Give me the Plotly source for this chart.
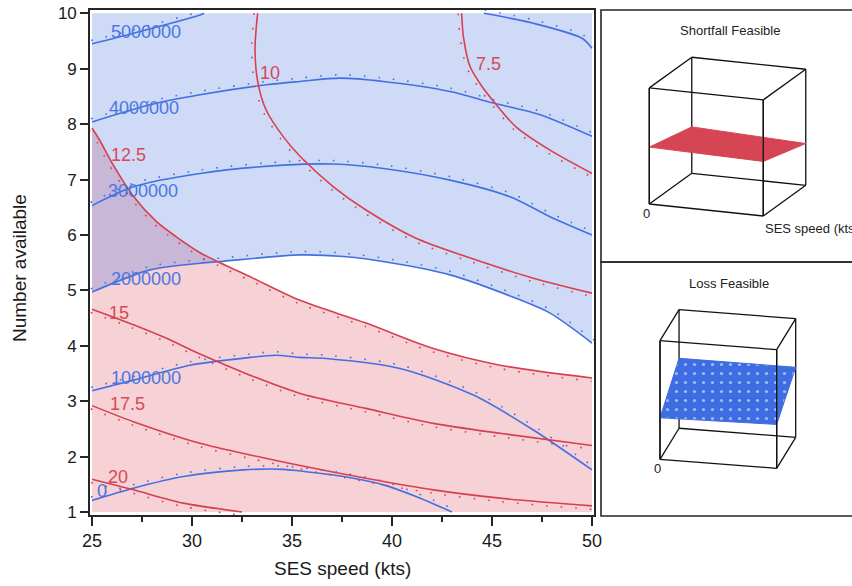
import math
import plotly.graph_objects as go

FIG_W, FIG_H = 852, 586

# ---------------------------------------------------------------------------
# Factor space
# ---------------------------------------------------------------------------
SPEED_MIN, SPEED_MAX = 25, 50
NUMBER_MIN, NUMBER_MAX = 1, 10
SPEED_TICKS = [25, 30, 35, 40, 45, 50]
SPEED_MINOR_TICKS = [27.5, 32.5, 37.5, 42.5, 47.5]
NUMBER_TICKS = [1, 2, 3, 4, 5, 6, 7, 8, 9, 10]

# ---------------------------------------------------------------------------
# Loss contours (blue): points (SES speed, number available) along each level
# ---------------------------------------------------------------------------
LOSS_LEVELS = [0, 1000000, 2000000, 3000000, 4000000, 5000000]
LOSS_0_SPEED = [25.0, 27.07, 29.57, 32.57, 34.57, 35.4, 37.57, 39.57, 41.2, 43.0]
LOSS_0_NUMBER = [1.21, 1.43, 1.64, 1.76, 1.77, 1.74, 1.64, 1.49, 1.28, 1.0]
LOSS_1M_SPEED = [25.0, 27.07, 29.9, 32.9, 34.2, 35.4, 36.7, 40.4, 44.07, 47.07, 50.0]
LOSS_1M_NUMBER = [3.19, 3.38, 3.65, 3.79, 3.83, 3.79, 3.77, 3.59, 3.11, 2.48, 1.76]
LOSS_2M_SPEED = [25.0, 27.9, 30.4, 31.4, 35.4, 37.57, 40.07, 42.9, 45.9, 47.9, 50.0]
LOSS_2M_NUMBER = [4.97, 5.37, 5.49, 5.52, 5.64, 5.61, 5.49, 5.28, 4.90, 4.59, 4.05]
LOSS_3M_SPEED = [25.0, 27.07, 30.4, 34.57, 37.07, 39.57, 42.9, 45.9, 47.9, 50.0]
LOSS_3M_NUMBER = [6.53, 6.87, 7.11, 7.26, 7.28, 7.20, 6.99, 6.69, 6.33, 6.0]
LOSS_4M_SPEED = [25.0, 27.9, 30.4, 33.73, 35.4, 37.4, 39.57, 42.9, 45.07, 47.4, 50.0]
LOSS_4M_NUMBER = [8.04, 8.35, 8.53, 8.71, 8.77, 8.83, 8.77, 8.59, 8.38, 8.17, 7.78]
LOSS_5M_SPEED = [25.0, 27.07, 30.4, 30.6, None, 44.6, 47.07, 49.5, 50.0]
LOSS_5M_NUMBER = [9.45, 9.64, 9.97, 10.0, None, 10.0, 9.82, 9.55, 9.37]

# ---------------------------------------------------------------------------
# Shortfall contours (red)
# ---------------------------------------------------------------------------
SHORT_LEVELS = [7.5, 10, 12.5, 15, 17.5, 20]
SHORT_7_5_SPEED = [43.48, 43.57, 43.9, 44.5, 45.15, 46.2, 47.9, 50.0]
SHORT_7_5_NUMBER = [10.0, 9.58, 9.04, 8.68, 8.38, 7.95, 7.53, 7.11]
SHORT_10_SPEED = [33.28, 33.15, 33.3, 33.7, 34.57, 35.4, 37.07, 38.7, 41.2, 43.7, 47.07, 50.0]
SHORT_10_NUMBER = [10.0, 9.34, 8.74, 8.26, 7.77, 7.42, 6.87, 6.45, 5.94, 5.61, 5.22, 4.95]
SHORT_12_5_SPEED = [25.0, 25.4, 26.0, 27.07, 28.2, 29.2, 30.4, 31.4, 33.0, 35.4, 38.7, 42.07, 45.4, 50.0]
SHORT_12_5_NUMBER = [7.93, 7.70, 7.30, 6.70, 6.25, 5.97, 5.68, 5.50, 5.23, 4.82, 4.41, 3.95, 3.65, 3.42]
SHORT_15_SPEED = [25.0, 27.07, 28.7, 30.4, 32.9, 35.4, 38.7, 42.07, 45.4, 50.0]
SHORT_15_NUMBER = [4.66, 4.38, 4.14, 3.85, 3.47, 3.14, 2.87, 2.60, 2.42, 2.20]
SHORT_17_5_SPEED = [25.0, 27.07, 30.4, 32.9, 35.4, 38.7, 42.07, 45.4, 50.0]
SHORT_17_5_NUMBER = [2.92, 2.63, 2.24, 2.03, 1.84, 1.61, 1.40, 1.25, 1.11]
SHORT_20_SPEED = [25.0, 27.07, 29.57, 32.5]
SHORT_20_NUMBER = [1.59, 1.40, 1.16, 1.0]

# Feasibility limits shaded on the contour plot
LOSS_LIMIT = 2000000      # loss at or above this level is shaded blue
SHORT_LIMIT = 12.5        # shortfall at or above this level is shaded red

# ---------------------------------------------------------------------------
# Surface heights for the two small 3-D views (fraction of the z range),
# rows: number available (front, back); columns: SES speed (low, high)
# ---------------------------------------------------------------------------
SURFACE_SPEED = [25, 50]
SURFACE_NUMBER = [1, 10]
SHORTFALL_FEASIBLE_HEIGHT = [[0.49, 0.47], [0.40, 0.36]]
LOSS_FEASIBLE_HEIGHT = [[0.35, 0.37], [0.59, 0.59]]

# ---------------------------------------------------------------------------
# Styling / layout
# ---------------------------------------------------------------------------
FONT = "Liberation Sans, Arial, sans-serif"
BLUE = "rgb(66,112,226)"
RED = "rgb(214,64,80)"
BLUE_TEXT = "rgb(74,118,226)"
RED_TEXT = "rgb(216,72,86)"
BLUE_FILL = "rgba(62,108,225,0.25)"
RED_FILL = "rgba(216,58,74,0.23)"
FRAME = "#262626"
TEXT = "#1a1a1a"

PLOT_L, PLOT_R, PLOT_T, PLOT_B = 90, 594, 10, 515
X_RANGE = [24.9, 50.1]
Y_RANGE = [0.946, 10.06]
PX_X = (PLOT_R - PLOT_L) / (X_RANGE[1] - X_RANGE[0])
PX_Y = (PLOT_B - PLOT_T) / (Y_RANGE[1] - Y_RANGE[0])

LOSS_LABEL_POS = {0: (25.49, 1.38), 1000000: (27.72, 3.42), 2000000: (27.68, 5.21),
                  3000000: (27.55, 6.80), 4000000: (27.6, 8.30), 5000000: (27.68, 9.67)}
SHORT_LABEL_POS = {7.5: (44.8, 9.09), 10: (33.9, 8.93), 12.5: (26.8, 7.44),
                   15: (26.37, 4.59), 17.5: (26.79, 2.95), 20: (26.32, 1.63)}

PANELS = {
    "shortfall": dict(origin=(649.3, 204.0), scale=122.0, azimuth=20.9,
                      elevation=16.0, aspect=(0.976, 0.99)),
    "loss": dict(origin=(660.0, 459.3), scale=119.4, azimuth=12.3,
                 elevation=20.8, aspect=(0.749, 1.063)),
}

loss_curves = {
    0: (LOSS_0_SPEED, LOSS_0_NUMBER),
    1000000: (LOSS_1M_SPEED, LOSS_1M_NUMBER),
    2000000: (LOSS_2M_SPEED, LOSS_2M_NUMBER),
    3000000: (LOSS_3M_SPEED, LOSS_3M_NUMBER),
    4000000: (LOSS_4M_SPEED, LOSS_4M_NUMBER),
    5000000: (LOSS_5M_SPEED, LOSS_5M_NUMBER),
}
short_curves = {
    7.5: (SHORT_7_5_SPEED, SHORT_7_5_NUMBER),
    10: (SHORT_10_SPEED, SHORT_10_NUMBER),
    12.5: (SHORT_12_5_SPEED, SHORT_12_5_NUMBER),
    15: (SHORT_15_SPEED, SHORT_15_NUMBER),
    17.5: (SHORT_17_5_SPEED, SHORT_17_5_NUMBER),
    20: (SHORT_20_SPEED, SHORT_20_NUMBER),
}


def split_segments(xs, ys):
    segs, cx, cy = [], [], []
    for x, y in zip(xs, ys):
        if x is None:
            if cx:
                segs.append((cx, cy))
            cx, cy = [], []
        else:
            cx.append(x)
            cy.append(y)
    if cx:
        segs.append((cx, cy))
    return segs


def offset_curve(xs, ys, dist_px):
    """Shift a polyline sideways by dist_px screen pixels (positive = left of travel)."""
    px = [x * PX_X for x in xs]
    py = [y * PX_Y for y in ys]
    n = len(px)
    ox, oy = [], []
    for i in range(n):
        a = max(i - 1, 0)
        b = min(i + 1, n - 1)
        tx, ty = px[b] - px[a], py[b] - py[a]
        ln = math.hypot(tx, ty) or 1.0
        nx, ny = -ty / ln, tx / ln
        ox.append((px[i] + nx * dist_px) / PX_X)
        oy.append((py[i] + ny * dist_px) / PX_Y)
    return ox, oy


fig = go.Figure()

# --- shaded regions -------------------------------------------------------
sx, sy = short_curves[SHORT_LIMIT]
fig.add_trace(go.Scatter(x=[SPEED_MIN, SPEED_MAX], y=[NUMBER_MIN, NUMBER_MIN], mode="lines",
                         line=dict(width=0), hoverinfo="skip", showlegend=False))
fig.add_trace(go.Scatter(x=sx, y=sy, mode="lines", fill="tonexty", fillcolor=RED_FILL,
                         line=dict(width=0, shape="spline", smoothing=0.8),
                         hoverinfo="skip", showlegend=False))
lx, ly = loss_curves[LOSS_LIMIT]
fig.add_trace(go.Scatter(x=[SPEED_MIN, SPEED_MAX], y=[NUMBER_MAX, NUMBER_MAX], mode="lines",
                         line=dict(width=0), hoverinfo="skip", showlegend=False))
fig.add_trace(go.Scatter(x=lx, y=ly, mode="lines", fill="tonexty", fillcolor=BLUE_FILL,
                         line=dict(width=0, shape="spline", smoothing=0.8),
                         hoverinfo="skip", showlegend=False))


# --- contour lines with their dotted side markers -------------------------
def add_contour(xs, ys, color, side):
    for segx, segy in split_segments(xs, ys):
        dx, dy = offset_curve(segx, segy, 3.4 * side)
        fig.add_trace(go.Scatter(x=dx, y=dy, mode="lines",
                                 line=dict(color=color, width=1.6, dash="1.6px,13px",
                                           shape="spline", smoothing=0.8),
                                 hoverinfo="skip", showlegend=False))
        fig.add_trace(go.Scatter(x=segx, y=segy, mode="lines",
                                 line=dict(color=color, width=1.6, shape="spline", smoothing=0.8),
                                 hoverinfo="skip", showlegend=False))


for lvl in LOSS_LEVELS:
    add_contour(*loss_curves[lvl], BLUE, +1)
for lvl in SHORT_LEVELS:
    add_contour(*short_curves[lvl], RED, -1)

annotations = []
for lvl in LOSS_LEVELS:
    x, y = LOSS_LABEL_POS[lvl]
    annotations.append(dict(x=x, y=y, xref="x", yref="y", text=f"{lvl:d}", showarrow=False,
                            xanchor="center", yanchor="middle",
                            font=dict(family=FONT, size=18, color=BLUE_TEXT)))
for lvl in SHORT_LEVELS:
    x, y = SHORT_LABEL_POS[lvl]
    annotations.append(dict(x=x, y=y, xref="x", yref="y", text=f"{lvl:g}", showarrow=False,
                            xanchor="center", yanchor="middle",
                            font=dict(family=FONT, size=18, color=RED_TEXT)))

# axis titles
annotations.append(dict(x=342 / FIG_W, y=1 - 568 / FIG_H, xref="paper", yref="paper",
                        text="SES speed (kts)", showarrow=False,
                        xanchor="center", yanchor="middle",
                        font=dict(family=FONT, size=19, color=TEXT)))
annotations.append(dict(x=20 / FIG_W, y=1 - 268 / FIG_H, xref="paper", yref="paper",
                        text="Number available", showarrow=False, textangle=-90,
                        xanchor="center", yanchor="middle",
                        font=dict(family=FONT, size=19, color=TEXT)))


# --- small 3-D views, projected orthographically onto a pixel canvas -----
def project(panel, u, v, w):
    ox, oy = panel["origin"]
    s = panel["scale"]
    th = math.radians(panel["azimuth"])
    ph = math.radians(panel["elevation"])
    ky, kz = panel["aspect"]
    X, Y, Z = u, v * ky, w * kz
    sx_ = s * (X * math.cos(th) + Y * math.sin(th))
    sy_ = s * (Z * math.cos(ph) + math.sin(ph) * (-X * math.sin(th) + Y * math.cos(th)))
    return ox + sx_, oy - sy_


def frac(val, lo, hi):
    return (val - lo) / (hi - lo)


def add_box_view(panel, heights, color, textured):
    # cube wireframe
    ex, ey = [], []
    corners = [(i, j, k) for i in (0, 1) for j in (0, 1) for k in (0, 1)]
    for a in corners:
        for b in corners:
            if a < b and sum(abs(p - q) for p, q in zip(a, b)) == 1:
                x0, y0 = project(panel, *a)
                x1, y1 = project(panel, *b)
                ex += [x0, x1, None]
                ey += [y0, y1, None]
    fig.add_trace(go.Scatter(x=ex, y=ey, xaxis="x2", yaxis="y2", mode="lines",
                             line=dict(color="#111111", width=1.3),
                             hoverinfo="skip", showlegend=False))
    # surface outline: walk the border of the height grid
    ns, nn = len(SURFACE_SPEED), len(SURFACE_NUMBER)
    border = ([(0, i) for i in range(ns)] + [(j, ns - 1) for j in range(1, nn)]
              + [(nn - 1, i) for i in range(ns - 2, -1, -1)] + [(j, 0) for j in range(nn - 2, 0, -1)])
    px_, py_ = [], []
    for j, i in border:
        u = frac(SURFACE_SPEED[i], SPEED_MIN, SPEED_MAX)
        v = frac(SURFACE_NUMBER[j], NUMBER_MIN, NUMBER_MAX)
        x, y = project(panel, u, v, heights[j][i])
        px_.append(x)
        py_.append(y)
    px_.append(px_[0])
    py_.append(py_[0])
    extra = {}
    if textured:
        extra["fillpattern"] = dict(shape=".", fgcolor="rgba(180,200,250,0.85)", bgcolor=color,
                                    size=9, solidity=0.1)
    fig.add_trace(go.Scatter(x=px_, y=py_, xaxis="x2", yaxis="y2", mode="lines", fill="toself",
                             fillcolor=color, line=dict(color=color, width=1),
                             hoverinfo="skip", showlegend=False, **extra))
    # front vertical edges stay visible in front of the surface
    fx, fy = [], []
    for i in (0, 1):
        x0, y0 = project(panel, i, 0, 0)
        x1, y1 = project(panel, i, 0, 1)
        fx += [x0, x1, None]
        fy += [y0, y1, None]
    fig.add_trace(go.Scatter(x=fx, y=fy, xaxis="x2", yaxis="y2", mode="lines",
                             line=dict(color="#111111", width=1.3),
                             hoverinfo="skip", showlegend=False))
    x0, y0 = project(panel, 0, 0, 0)
    annotations.append(dict(x=x0 - 3, y=y0 + 9, xref="x2", yref="y2", text="0", showarrow=False,
                            xanchor="center", yanchor="middle",
                            font=dict(family=FONT, size=13, color="#222")))
    return project(panel, 1, 0, 0)


sf_end = add_box_view(PANELS["shortfall"], SHORTFALL_FEASIBLE_HEIGHT, "rgb(214,69,84)", False)
add_box_view(PANELS["loss"], LOSS_FEASIBLE_HEIGHT, "rgb(61,109,224)", True)

annotations.append(dict(x=sf_end[0], y=sf_end[1] + 12, xref="x2", yref="y2",
                        text="SES speed (kts)", showarrow=False, xanchor="left", yanchor="middle",
                        font=dict(family=FONT, size=13, color="#222")))
annotations.append(dict(x=730, y=30, xref="x2", yref="y2", text="Shortfall Feasible",
                        showarrow=False, xanchor="center", yanchor="middle",
                        font=dict(family=FONT, size=13, color="#222")))
annotations.append(dict(x=729, y=283, xref="x2", yref="y2", text="Loss Feasible",
                        showarrow=False, xanchor="center", yanchor="middle",
                        font=dict(family=FONT, size=13, color="#222")))

shapes = []
for top, bottom in ((10, 262), (262, 516)):
    shapes.append(dict(type="rect", xref="paper", yref="paper",
                       x0=601 / FIG_W, x1=1.02, y0=1 - bottom / FIG_H, y1=1 - top / FIG_H,
                       line=dict(color=FRAME, width=1.6), fillcolor="rgba(0,0,0,0)"))

fig.update_layout(
    template="none",
    width=FIG_W, height=FIG_H,
    margin=dict(l=0, r=0, t=0, b=0, pad=0, autoexpand=False),
    paper_bgcolor="white", plot_bgcolor="rgba(0,0,0,0)",
    showlegend=False,
    font=dict(family=FONT, color=TEXT),
    annotations=annotations, shapes=shapes,
    xaxis=dict(domain=[PLOT_L / FIG_W, PLOT_R / FIG_W], range=X_RANGE, tickvals=SPEED_TICKS,
               ticks="outside", ticklen=9, tickwidth=1.5, tickcolor=FRAME,
               minor=dict(tickvals=SPEED_MINOR_TICKS, ticks="outside", ticklen=5,
                          tickwidth=1.5, tickcolor=FRAME),
               showline=True, mirror=True, linecolor=FRAME, linewidth=1.6, automargin=False,
               showgrid=False, zeroline=False, tickfont=dict(size=18, family=FONT, color=TEXT),
               anchor="y"),
    yaxis=dict(domain=[1 - PLOT_B / FIG_H, 1 - PLOT_T / FIG_H], range=Y_RANGE, tickvals=NUMBER_TICKS,
               ticks="outside", ticklen=8, tickwidth=1.5, tickcolor=FRAME,
               showline=True, mirror=True, linecolor=FRAME, linewidth=1.6, automargin=False,
               showgrid=False, zeroline=False, tickfont=dict(size=17, family=FONT, color=TEXT),
               anchor="x"),
    xaxis2=dict(domain=[600 / FIG_W, 1], range=[600, FIG_W], visible=False, anchor="y2",
                automargin=False),
    yaxis2=dict(domain=[0, 1], range=[FIG_H, 0], visible=False, anchor="x2", automargin=False),
)

fig.write_html("out.html")
